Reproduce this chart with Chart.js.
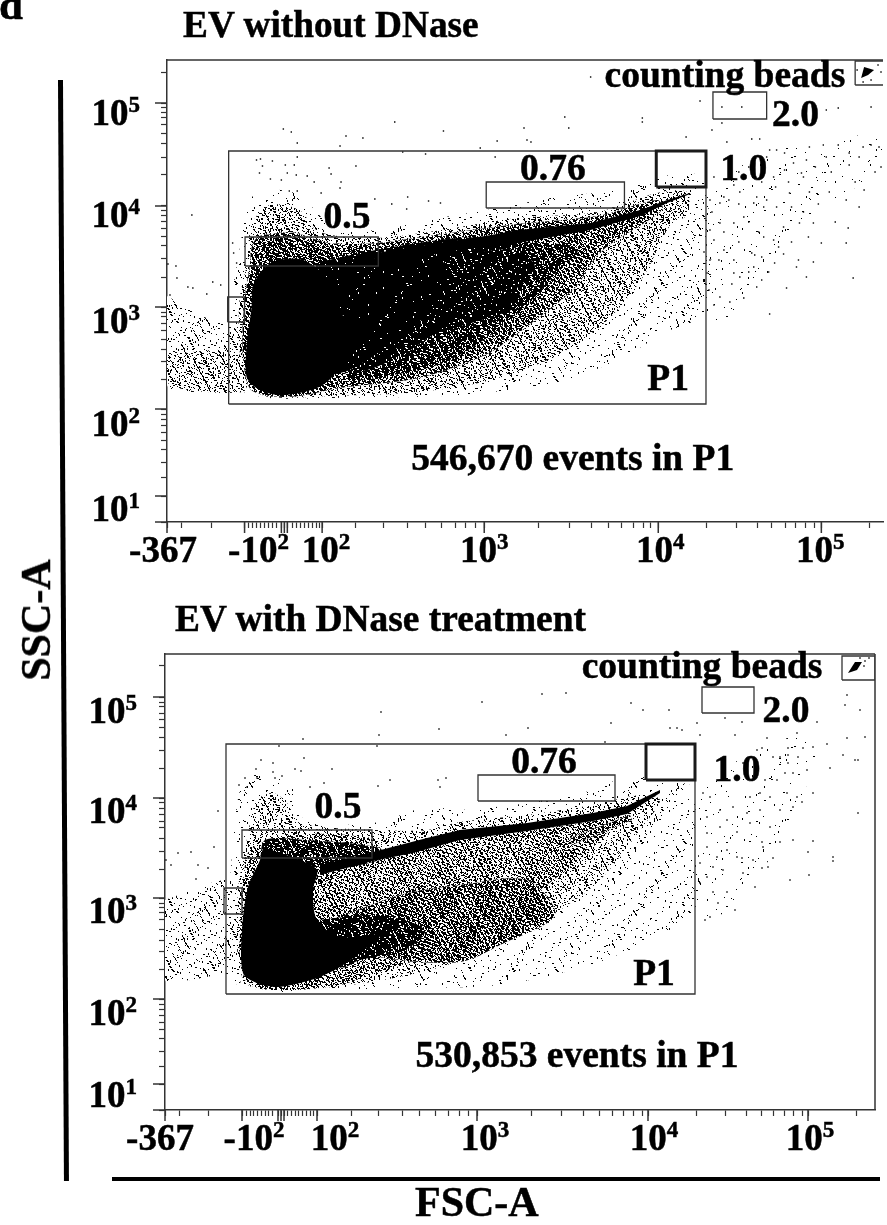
<!DOCTYPE html>
<html>
<head>
<meta charset="utf-8">
<title>EV FSC-A / SSC-A</title>
<script src="https://cdn.jsdelivr.net/npm/chart.js@4/dist/chart.umd.min.js"></script>
<style>
  html, body { margin: 0; padding: 0; background: #fff; }
  #page { position: relative; width: 887px; height: 1225px; overflow: hidden; font-family: "Liberation Serif", serif; font-weight: bold; color: #000; -webkit-text-stroke: 0.5px #000; }
  canvas { position: absolute; left: 0; }
  .txt { position: absolute; white-space: nowrap; line-height: 1; }
  .bar { position: absolute; background: #000; }
</style>
</head>
<body>
<div id="page">
  <canvas id="topChart" width="887" height="590" style="top:0;width:887px;height:590px"></canvas>
  <canvas id="bottomChart" width="887" height="635" style="top:590px;width:887px;height:635px"></canvas>
  <div class="txt" style="left:-1px;top:-17px;font-size:43px">d</div>
  <div class="txt" style="left:183px;top:6px;font-size:37.3px">EV without DNase</div>
  <div class="txt" style="left:175px;top:600px;font-size:37.4px">EV with DNase treatment</div>
  <div class="txt" style="left:36px;top:620px;font-size:42px;transform:translate(-50%,-50%) rotate(-90deg)">SSC-A</div>
  <div class="txt" style="left:415px;top:1181px;font-size:42px">FSC-A</div>
  <div class="bar" style="left:58px;top:80px;width:5px;height:1101px;transform-origin:0 0;transform:rotate(-0.31deg)"></div>
  <div class="bar" style="left:112px;top:1177px;width:768px;height:4px"></div>
</div>
<script>
// All values are display channels of the biexponential axes: x = FSC-A, y = SSC-A

// ---- tick positions and labels ----
const topXTicks = [0, 15, 45, 78, 82, 86, 90, 94, 98, 102, 106, 110, 115, 118, 121, 126, 130, 134, 138, 142, 146, 150, 153, 156, 190, 218, 242, 260, 276, 290, 300, 310, 319, 374, 405, 427, 444, 457, 469, 479, 486, 494, 543, 573, 594, 608, 622, 632, 642, 651, 658, 706];
const topXMajor = [0, 78, 115, 118, 121, 156, 319, 494, 658];
const topYTicks = [0, 26, 45, 60, 73, 82, 90, 97, 103, 108, 113, 143, 161, 173, 183, 192, 199, 206, 210, 215, 245, 264, 277, 286, 294, 301, 307, 312, 316, 347, 365, 379, 389, 397, 404, 409, 415, 419, 450];
const topYMajor = [0, 26, 113, 215, 316, 419];
const bottomXTicks = [0, 14, 43, 77, 81, 85, 88, 92, 96, 100, 103, 107, 113, 116, 119, 122, 126, 130, 133, 137, 141, 145, 148, 152, 186, 213, 237, 254, 270, 283, 294, 303, 312, 366, 396, 418, 434, 447, 458, 468, 477, 483, 531, 560, 581, 596, 608, 619, 628, 637, 643, 691];
const bottomXMajor = [0, 77, 113, 116, 119, 152, 312, 483, 643];
const bottomYTicks = [0, 26, 44, 59, 72, 81, 88, 95, 101, 106, 111, 141, 158, 170, 181, 190, 197, 203, 207, 212, 241, 259, 272, 282, 289, 296, 302, 307, 312, 342, 360, 373, 383, 391, 397, 403, 408, 413, 444];
const bottomYMajor = [0, 26, 111, 212, 312, 413];

const xTickBase = ["-367", "-10", "10", "10", "10", "10"];
const xTickExp = ["", "2", "2", "3", "4", "5"];
const yTickBase = ["10", "10", "10", "10", "10"];
const yTickExp = ["5", "4", "3", "2", "1"];
const topXLabelAt = [-4, 92, 160, 319, 496, 657];
const topYLabelAt = [397, 295, 189, 86, 1];
const bottomXLabelAt = [-5, 89, 170, 320, 489, 645];
const bottomYLabelAt = [387, 287, 187, 85, 3];

// ---- gates: [x1, x2, y1, y2] ----
const topGates = [[62, 542, 118, 371], [78.5, 212.5, 256, 285], [61, 78, 200, 225], [321, 460, 314, 340], [549, 603, 403, 430], [692, 722, 437, 461]];
const topBoldGate = [492, 542, 335, 371];
const bottomGates = [[61, 530, 116, 366], [77, 207, 252, 280], [59, 77, 196, 222], [313, 450, 309, 335], [537, 589, 397, 423], [677, 710, 430, 454]];
const bottomBoldGate = [481, 530, 330, 366];

// ---- annotations: text, x, y ----
const topNotes = [["0.5", 181, 294], ["0.76", 388, 342], ["1.0", 580, 342], ["2.0", 632, 396], ["counting beads", 561, 435], ["P1", 504, 132], ["546,670 events in P1", 408, 52]];
const bottomNotes = [["0.5", 173, 292], ["0.76", 379, 337], ["1.0", 572, 329], ["2.0", 621, 388], ["counting beads", 537, 432], ["P1", 489, 125], ["530,853 events in P1", 412, 43]];

// ---- density region outlines ----
const topFringe = [[542,337],[620,375],[720,385],[720,355],[640,300],[600,240],[560,200],[542,212]];
const topHalo = [[73,272],[83,322],[103,332],[133,327],[153,307],[168,294],[213,292],[263,302],[333,314],[393,325],[453,332],[523,350],[542,337],[542,212],[500,189],[453,162],[393,140],[293,127],[163,124],[103,124],[78,132],[65,162],[65,222]];
const topTail = [[0,226],[33,207],[62,197],[78,202],[78,130],[62,134],[23,130],[0,137]];
const topTailBand = [[0,167],[62,172],[78,162],[78,132],[23,132],[0,140]];
const topLight = [[81,260],[85,297],[103,317],[133,312],[153,290],[211,284],[263,290],[353,304],[433,310],[493,329],[523,330],[523,307],[506,297],[480,247],[443,202],[393,167],[326,142],[253,130],[163,126],[103,125],[81,137],[73,172],[73,222]];
const topMid = [[83,254],[88,280],[123,290],[163,279],[211,279],[263,286],[353,298],[433,306],[493,322],[498,312],[436,270],[410,234],[360,194],[320,167],[253,144],[173,134],[133,126],[103,126],[83,134],[76,172],[78,222]];
const topDark = [[210,269],[293,272],[353,279],[403,277],[413,270],[396,254],[370,225],[330,190],[280,160],[233,148],[183,145],[168,192],[168,237]];
const topDarker = [[233,262],[300,268],[350,272],[370,255],[340,225],[280,195],[233,165],[190,150],[178,164],[206,182],[233,202]];
const topGateHaze = [[83,245],[90,284],[125,286],[165,270],[211,272],[211,262],[150,250],[100,240]];
const topMass = [[153,260],[210,264],[275,262],[285,230],[233,185],[206,165],[178,150],[150,150],[150,240]];
const topUpperBand = [[153,260],[210,272],[293,284],[353,282],[353,276],[293,266],[233,250],[178,232],[163,242]];
const topLowerBand = [[176,182],[226,202],[276,212],[353,229],[353,215],[276,190],[226,172],[183,160]];
const topCore = [[93,249],[106,260],[133,263],[153,252],[166,235],[173,209],[206,199],[206,185],[180,169],[166,145],[153,135],[133,129],[110,127],[90,134],[80,145],[80,175],[85,215],[86,235]];
const topStreak = [[210,269],[260,277],[326,287],[353,292],[426,299],[476,312],[503,322],[526,329],[526,328],[503,319],[476,306],[426,292],[353,279],[293,272],[260,266],[210,254]];
const topBeads = [[698,444],[701,455],[711,452],[705,447]];

const bottomFringe = [[530,320],[600,365],[650,372],[640,320],[610,260],[570,205],[540,190],[530,200]];
const bottomHalo = [[67,255],[75,320],[90,335],[125,325],[140,290],[208,287],[262,303],[295,300],[362,307],[428,320],[462,333],[525,325],[530,310],[530,200],[485,170],[425,145],[335,125],[235,122],[165,120],[105,118],[75,130],[63,180]];
const bottomTail = [[0,210],[59,230],[75,220],[75,125],[60,135],[25,130],[0,130]];
const bottomLight = [[85,287],[92,310],[108,317],[122,307],[135,287],[210,280],[262,280],[295,288],[362,295],[428,305],[475,315],[495,310],[475,280],[435,230],[395,200],[335,165],[265,140],[185,125],[115,120],[83,125],[73,150],[73,220],[80,260]];
const bottomMid = [[78,230],[85,260],[125,275],[207,272],[215,260],[295,272],[355,278],[425,288],[455,295],[425,260],[375,220],[315,180],[265,155],[205,135],[175,125],[125,120],[85,125],[75,150]];
const bottomPale = [[153,225],[215,245],[295,265],[355,272],[395,270],[355,235],[295,230],[235,218],[180,200],[157,210]];
const bottomDark = [[180,195],[235,215],[295,225],[362,230],[390,195],[335,165],[295,148],[220,152],[185,165]];
const bottomSecondStreak = [[405,272],[465,295],[467,290],[407,265]];
const bottomGateHaze = [[95,250],[100,270],[140,270],[215,262],[215,250],[150,240]];
const bottomWedge = [[152,190],[215,195],[260,180],[240,160],[195,150],[175,143]];
const bottomCore = [[98,263],[112,258],[135,250],[152,240],[148,220],[152,190],[175,173],[215,175],[195,157],[175,143],[155,133],[135,127],[112,123],[92,127],[78,137],[77,180],[83,223],[95,250]];
const bottomStreak = [[155,245],[208,258],[262,272],[295,280],[362,287],[428,297],[462,304],[495,320],[495,317],[462,296],[428,289],[362,279],[295,270],[248,257],[208,249],[155,235]];
const bottomBeads = [[683,437],[690,448],[697,448],[692,440]];

// ---- outlying events read one by one ----
const topEvents = [[426,445],[400,405],[478,404],[478,400],[359,394],[404,394],[332,381],[362,382],[366,380],[315,374],[330,365],[548,392],[522,385],[536,421],[563,380],[588,383],[596,383],[558,399],[558,415],[578,415],
[550,345],[570,337],[576,330],[593,325],[603,322],[613,315],[626,329],[640,345],[646,330],[666,330],[683,322],[696,315],[663,365],[686,369],[696,365],[700,375],[716,375],[708,377],[675,377],[660,377],[646,375],[613,372],[621,369],[630,359],[621,352],[643,362],[638,349],[606,372],[603,365],
[546,322],[556,319],[565,322],[590,319],[600,315],[580,305],[570,299],[556,299],[546,292],[595,290],[620,295],[636,299],[650,299],[685,294],[658,279],[683,279],[550,282],[560,272],[570,262],[588,269],[591,267],[598,265],[611,259],[635,262],[650,260],[633,255],[643,245],[690,244],[623,234],[593,235],[580,224],[566,220],[556,225],[550,217],[606,208],[545,232],[543,249],[576,245],[598,242],[570,249],[546,262],[708,415],[675,414],[663,412],[718,355],[701,332],[686,357],
[560,325],[575,318],[548,310],[585,300],[560,290],[600,285],[575,280],[615,275],[540,270],[590,255],[610,282],[555,262],[568,238],[585,250],[605,250],[620,268],[628,280],[645,285],[655,318],[672,300],[668,350],[652,355],[692,340],[712,350],[625,340],[610,345],[598,340],[585,355],[612,335],[575,350],[640,310],[628,315],
[117,393],[125,390],[131,379],[180,386],[197,384],[174,376],[229,400],[278,391],[237,370],[260,368],[90,362],[94,363],[96,356],[106,361],[119,357],[128,357],[131,365],[121,349],[130,347],[141,346],[163,354],[165,348],[190,356],[93,349],[104,343],[115,342],[123,331],[131,331],[148,340],[155,329],[175,340],[174,334],[25,307],[242,325],[209,323],[226,318],[263,321],[275,319],[241,313],[9,256],[1,258],[10,244],[21,235],[26,234],[46,240],[54,237],[40,228],[3,227],[66,279],[67,269],[70,259],
[715,457],[718,450],[694,452],[700,440],[708,442]];

const bottomEvents = [[317,408],[377,416],[401,417],[466,407],[478,400],[504,400],[560,392],[577,388],[446,387],[532,387],[505,382],[512,382],[517,380],[341,375],[363,382],[535,375],[570,375],[602,372],[440,368],[662,366],[682,372],[700,373],[678,355],[690,350],[693,350],[665,342],[695,400],[682,415],[680,405],[652,388],[632,377],
[623,362],[638,362],[623,355],[648,363],[633,353],[623,347],[615,353],[608,353],[642,340],[628,337],[620,337],[612,330],[600,330],[592,360],[597,362],[585,353],[578,347],[648,317],[632,313],[622,317],[605,313],[595,317],[585,313],[628,303],[637,308],[615,300],[595,300],[582,297],[568,303],[555,300],[545,313],[538,317],[542,293],[562,290],[585,287],[605,283],[555,283],[572,278],[542,277],[693,297],[668,253],[668,249],[648,269],[628,270],[615,268],[597,268],[598,263],[643,258],[608,252],[625,230],[644,235],[603,243],[597,242],[588,250],[577,252],[572,253],[562,260],[552,253],[542,263],[535,247],[548,243],[558,240],[578,237],[590,223],[570,200],[562,218],[548,218],[553,207],[545,193],[540,190],[535,227],[542,233],
[53,299],[13,257],[26,258],[49,263],[33,245],[43,242],[6,245],[1,250],[31,231],[216,398],[214,375],[212,364],[274,381],[138,371],[114,364],[139,352],[96,350],[108,347],[91,341],[130,341],[136,339],[167,341],[108,338],[110,332],[117,334],[159,327],[145,323],[213,324],[225,330],[273,330],[281,332],[275,323],[74,325],[82,323],[92,332],[80,332],
[700,449],[704,452],[699,444],[695,452]];

// Stipple used as the fill of a density region: fixed low-discrepancy grain, no data in it
const grainA = [0.7548776662, 0.4142135624, 0.2360679775];
const grainB = [0.5698402910, 0.7320508076, 0.6457513111];

function stipple(coverage) {
  const size = 128;
  const tile = document.createElement("canvas");
  tile.width = tile.height = size;
  const c = tile.getContext("2d");
  const dark = coverage > 0.5;
  c.fillStyle = dark ? "#000" : "#fff";
  c.fillRect(0, 0, size, size);
  c.fillStyle = dark ? "#fff" : "#000";
  const count = Math.round(((dark ? 1 - coverage : coverage) * size * size) / 1.33);
  for (let i = 1; i <= count; i++) {
    const px = Math.floor(((i * grainA[i % 3]) % 1) * size);
    const py = Math.floor(((i * grainB[i % 3]) % 1) * size);
    c.fillRect(px, py, i % 4 === 1 ? 2 : 1, i % 4 === 2 ? 2 : 1);
  }
  return c.createPattern(tile, "repeat");
}

function region(outline, fillStyle, tension = 0.3) {
  return {
    data: outline.concat([outline[0]]).map(([x, y]) => ({ x, y })),
    showLine: true, fill: "shape", backgroundColor: fillStyle, tension,
    borderWidth: 0, pointRadius: 0, borderColor: "transparent",
  };
}

function gate([x1, x2, y1, y2], width) {
  const corners = [[x1, y1], [x2, y1], [x2, y2], [x1, y2], [x1, y1]];
  return {
    data: corners.map(([x, y]) => ({ x, y })),
    showLine: true, fill: false, borderColor: width > 2 ? "#1a1a1a" : "#333", borderWidth: width, pointRadius: 0,
  };
}

function events(list) {
  return {
    data: list.map(([x, y]) => ({ x, y })),
    showLine: false, pointStyle: "rect", pointRadius: 1, pointBorderWidth: 0,
    pointBackgroundColor: "#000",
  };
}

function heavyText(ctx, text, x, y) {
  ctx.fillText(text, x, y);
  ctx.strokeText(text, x, y);
}

// Draws base + raised exponent as two text runs
function powerLabel(ctx, base, exp, cx, baseline, align) {
  ctx.font = "bold 37px 'Liberation Serif'";
  const bw = ctx.measureText(base).width;
  ctx.font = "bold 23px 'Liberation Serif'";
  const ew = ctx.measureText(exp).width;
  const left = align === "right" ? cx - bw - ew : cx - (bw + ew) / 2;
  ctx.textAlign = "left";
  ctx.textBaseline = "alphabetic";
  ctx.font = "bold 37px 'Liberation Serif'";
  heavyText(ctx, base, left, baseline);
  ctx.font = "bold 23px 'Liberation Serif'";
  heavyText(ctx, exp, left + bw, baseline - 13);
}

function panelPlugin(cfg) {
  return {
    id: "panelDecor",
    afterDatasetsDraw(chart) {
      const { ctx, chartArea: area, scales: { x, y } } = chart;
      ctx.save();
      ctx.strokeStyle = "#333";
      ctx.lineWidth = 1.5;
      ctx.beginPath();
      ctx.moveTo(area.left, area.top);
      ctx.lineTo(area.right, area.top);
      if (cfg.closedRight) {
        ctx.moveTo(area.right, area.top);
        ctx.lineTo(area.right, area.bottom);
      }
      cfg.xMajor.forEach((v) => {
        const p = x.getPixelForValue(v);
        ctx.moveTo(p, area.bottom);
        ctx.lineTo(p, area.bottom + 11);
      });
      cfg.yMajor.forEach((v) => {
        const p = y.getPixelForValue(v);
        ctx.moveTo(area.left, p);
        ctx.lineTo(area.left - 12, p);
      });
      ctx.stroke();

      ctx.fillStyle = "#000";
      ctx.strokeStyle = "#000";
      ctx.lineWidth = 0.5;
      xTickBase.forEach((b, i) => {
        powerLabel(ctx, b, xTickExp[i], x.getPixelForValue(cfg.xLabelAt[i]), area.bottom + 40, "center");
      });
      yTickBase.forEach((b, i) => {
        powerLabel(ctx, b, yTickExp[i], cfg.yLabelRight, y.getPixelForValue(cfg.yLabelAt[i]), "right");
      });
      ctx.textAlign = "center";
      ctx.textBaseline = "alphabetic";
      ctx.font = "bold 37.5px 'Liberation Serif'";
      cfg.notes.forEach(([text, nx, ny]) => {
        heavyText(ctx, text, x.getPixelForValue(nx), y.getPixelForValue(ny));
      });
      ctx.restore();
    },
  };
}

function drawPanel(id, cfg) {
  const datasets = cfg.layers.concat(cfg.gates);
  datasets.forEach((d, i) => { d.order = -i; });
  const axis = (ticks, max, fit) => ({
    type: "linear", min: 0, max,
    afterBuildTicks: (s) => { s.ticks = ticks.map((value) => ({ value })); },
    afterFit: fit,
    ticks: { autoSkip: false, callback: () => "", maxRotation: 0, padding: 0 },
    grid: { drawOnChartArea: false, drawTicks: true, tickLength: 6, tickColor: "#333", tickWidth: 1.2 },
    border: { display: true, color: "#333", width: 1.5 },
  });
  new Chart(document.getElementById(id), {
    type: "scatter",
    data: { datasets },
    plugins: [panelPlugin(cfg)],
    options: {
      responsive: false, animation: false, devicePixelRatio: 1,
      layout: { padding: { top: cfg.top, right: cfg.right, left: 0, bottom: 0 } },
      plugins: { legend: { display: false }, tooltip: { enabled: false }, title: { display: false } },
      scales: {
        x: axis(cfg.xTicks, cfg.xMax, (s) => { s.height = cfg.below; }),
        y: axis(cfg.yTicks, cfg.yMax, (s) => { s.width = cfg.left; }),
      },
    },
  });
}

drawPanel("topChart", {
  top: 60, right: 0, left: 167, below: 68, xMax: 720, yMax: 462,
  closedRight: false, yLabelRight: 140,
  xTicks: topXTicks, yTicks: topYTicks, xMajor: topXMajor, yMajor: topYMajor,
  xLabelAt: topXLabelAt, yLabelAt: topYLabelAt, notes: topNotes,
  layers: [
    region(topFringe, stipple(0.012)),
    region(topHalo, stipple(0.05)), region(topTail, stipple(0.1)), region(topTailBand, stipple(0.24)),
    region(topLight, stipple(0.28)), region(topMid, stipple(0.55)), region(topGateHaze, stipple(0.66)),
    region(topDark, stipple(0.78)), region(topDarker, stipple(0.92)),
    region(topUpperBand, stipple(0.95)), region(topLowerBand, stipple(0.95)), region(topMass, stipple(0.985)),
    region(topCore, "#000"), region(topStreak, "#000", 0), region(topBeads, "#000", 0),
    events(topEvents),
  ],
  gates: [...topGates.map((g) => gate(g, 1.3)), gate(topBoldGate, 3)],
});

drawPanel("bottomChart", {
  top: 64, right: 12, left: 165, below: 115, xMax: 710, yMax: 456,
  closedRight: true, yLabelRight: 137,
  xTicks: bottomXTicks, yTicks: bottomYTicks, xMajor: bottomXMajor, yMajor: bottomYMajor,
  xLabelAt: bottomXLabelAt, yLabelAt: bottomYLabelAt, notes: bottomNotes,
  layers: [
    region(bottomFringe, stipple(0.012)),
    region(bottomHalo, stipple(0.04)), region(bottomTail, stipple(0.09)),
    region(bottomLight, stipple(0.22)), region(bottomMid, stipple(0.5)), region(bottomPale, stipple(0.44)),
    region(bottomDark, stipple(0.6)), region(bottomSecondStreak, stipple(0.55), 0),
    region(bottomGateHaze, stipple(0.8)), region(bottomWedge, stipple(0.88)),
    region(bottomCore, "#000"), region(bottomStreak, "#000", 0), region(bottomBeads, "#000", 0),
    events(bottomEvents),
  ],
  gates: [...bottomGates.map((g) => gate(g, 1.3)), gate(bottomBoldGate, 3)],
});
</script>
</body>
</html>
